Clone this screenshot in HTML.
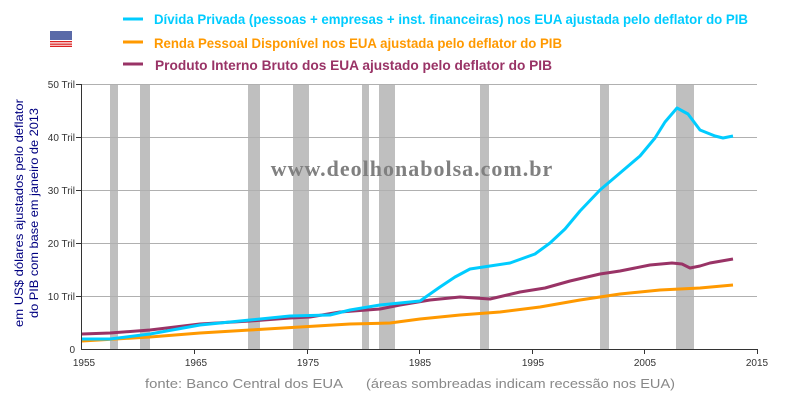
<!DOCTYPE html>
<html><head><meta charset="utf-8"><style>body{margin:0;background:#fff}svg{display:block}</style></head><body>
<svg width="800" height="400" xmlns="http://www.w3.org/2000/svg" font-family="Liberation Sans, DejaVu Sans, sans-serif">
<rect width="800" height="400" fill="#fff"/>
<g transform="translate(50,31)">
<rect width="22" height="16" fill="#fff"/>
<g fill="#d22">
<rect y="0" width="22" height="1.3"/><rect y="2.5" width="22" height="1.3"/><rect y="5" width="22" height="1.3"/><rect y="7.5" width="22" height="1.3"/><rect y="10" width="22" height="1.3"/><rect y="12.5" width="22" height="1.3"/><rect y="14.7" width="22" height="1.3"/>
</g>
<rect width="22" height="9" fill="#5a6aa8"/>
</g>
<g font-size="14" font-weight="bold">
<line x1="123" y1="19" x2="143" y2="19" stroke="#00ccff" stroke-width="3"/>
<text x="154" y="24" fill="#00ccff" textLength="594" lengthAdjust="spacingAndGlyphs">Dívida Privada (pessoas + empresas + inst. financeiras) nos EUA ajustada pelo deflator do PIB</text>
<line x1="123" y1="42" x2="143" y2="42" stroke="#ff9900" stroke-width="3"/>
<text x="154" y="48" fill="#ff9900" textLength="408" lengthAdjust="spacingAndGlyphs">Renda Pessoal Disponível nos EUA ajustada pelo deflator do PIB</text>
<line x1="123" y1="64" x2="143" y2="64" stroke="#993366" stroke-width="3"/>
<text x="155" y="70" fill="#993366" textLength="397" lengthAdjust="spacingAndGlyphs">Produto Interno Bruto dos EUA ajustado pelo deflator do PIB</text>
</g>
<g fill="#bfbfbf">
<rect x="110" y="84" width="8" height="265"/><rect x="140" y="84" width="10" height="265"/>
<rect x="248" y="84" width="12" height="265"/><rect x="293" y="84" width="16" height="265"/>
<rect x="362" y="84" width="7" height="265"/><rect x="379" y="84" width="16" height="265"/>
<rect x="480" y="84" width="9" height="265"/><rect x="600" y="84" width="9" height="265"/>
<rect x="676" y="84" width="18" height="265"/>
</g>
<g stroke="#b0b0b0" stroke-width="1">
<line x1="81" y1="84.5" x2="757" y2="84.5"/><line x1="81" y1="137.5" x2="757" y2="137.5"/>
<line x1="81" y1="190.5" x2="757" y2="190.5"/><line x1="81" y1="243.5" x2="757" y2="243.5"/>
<line x1="81" y1="296.5" x2="757" y2="296.5"/>
</g>
<g stroke="#333" stroke-width="1">
<line x1="81.5" y1="84" x2="81.5" y2="349"/><line x1="81" y1="349.5" x2="757" y2="349.5"/>
<line x1="76" y1="84.5" x2="81" y2="84.5"/><line x1="76" y1="137.5" x2="81" y2="137.5"/><line x1="76" y1="190.5" x2="81" y2="190.5"/><line x1="76" y1="243.5" x2="81" y2="243.5"/><line x1="76" y1="296.5" x2="81" y2="296.5"/>
<line x1="194.5" y1="349" x2="194.5" y2="354"/><line x1="307.5" y1="349" x2="307.5" y2="354"/><line x1="419.5" y1="349" x2="419.5" y2="354"/><line x1="532.5" y1="349" x2="532.5" y2="354"/><line x1="644.5" y1="349" x2="644.5" y2="354"/><line x1="757.5" y1="349" x2="757.5" y2="354"/>
</g>
<g font-size="10" fill="#333" text-anchor="end">
<text x="75" y="88">50 Tril</text><text x="75" y="141">40 Tril</text><text x="75" y="194">30 Tril</text><text x="75" y="247">20 Tril</text><text x="75" y="300">10 Tril</text><text x="75" y="353">0</text>
</g>
<g font-size="10" fill="#333" text-anchor="middle">
<text x="84" y="366">1955</text><text x="196" y="366">1965</text><text x="308" y="366">1975</text><text x="420" y="366">1985</text><text x="533" y="366">1995</text><text x="645" y="366">2005</text><text x="757" y="366">2015</text>
</g>
<text x="412" y="176" text-anchor="middle" font-family="Liberation Serif, serif" font-size="22" font-weight="bold" fill="#808080" letter-spacing="1">www.deolhonabolsa.com.br</text>
<g fill="none" stroke-width="3" stroke-linejoin="round">
<polyline stroke="#ff9900" points="82,341 150,337 200,333 250,330 300,327 350,324 390,323 420,319 460,315 500,312 540,307 580,300 620,294 660,290 700,288 733,285"/>
<polyline stroke="#993366" points="82,334 110,333 150,330 200,324 250,321 290,318 310,317 340,312 380,309 400,305 430,300 460,297 490,299 520,292 545,288 570,281 600,274 620,271 650,265 672,263 682,264 690,268 700,266 710,263 733,259"/>
<polyline stroke="#00ccff" points="82,339 110,339 150,334 200,325 250,320 290,316 330,315 350,310 380,305 400,303 420,301 440,287 455,277 470,269 490,266 510,263 535,254 550,243 565,229 580,211 600,190 620,173 640,156 655,138 665,122 677,108 688,114 700,130 715,136 723,138 733,136"/>
</g>
<g font-size="12" fill="#000080" text-anchor="middle">
<text transform="translate(23,213) rotate(-90)" textLength="228" lengthAdjust="spacingAndGlyphs">em US$ dólares ajustados pelo deflator</text>
<text transform="translate(38,213) rotate(-90)" textLength="210" lengthAdjust="spacingAndGlyphs">do PIB com base em janeiro de 2013</text>
</g>
<text x="145" y="388" font-size="13" fill="#888" textLength="198" lengthAdjust="spacingAndGlyphs">fonte: Banco Central dos EUA</text>
<text x="366" y="388" font-size="13" fill="#888" textLength="309" lengthAdjust="spacingAndGlyphs">(áreas sombreadas indicam recessão nos EUA)</text>
</svg>
</body></html>
